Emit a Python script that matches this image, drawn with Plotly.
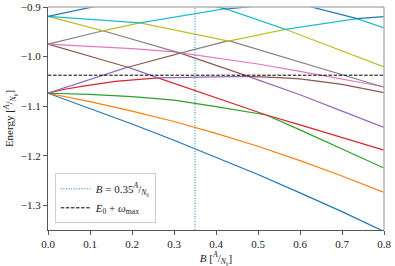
import plotly.graph_objects as go

# ---- data ----
B_blue = [0, 0.1, 0.2, 0.3, 0.4, 0.5, 0.6, 0.7, 0.8]
E_blue = [-1.074, -1.105, -1.136, -1.169, -1.203, -1.238, -1.275, -1.313, -1.353]

B_orange = [0, 0.1, 0.2, 0.3, 0.4, 0.5, 0.6, 0.7, 0.8]
E_orange = [-1.074, -1.091, -1.110, -1.131, -1.155, -1.181, -1.210, -1.241, -1.274]

B_green = [0, 0.1, 0.2, 0.3, 0.4, 0.52, 0.6, 0.7, 0.8]
E_green = [-1.074, -1.0765, -1.081, -1.088, -1.101, -1.118, -1.148, -1.187, -1.225]

B_red = [0, 0.04, 0.08, 0.16, 0.262, 0.35, 0.44, 0.52, 0.6, 0.7, 0.8]
E_red = [-1.074, -1.066, -1.060, -1.050, -1.043, -1.069, -1.095, -1.118, -1.138, -1.163, -1.189]

B_purple = [0, 0.19, 0.262, 0.35, 0.477, 0.5, 0.6, 0.7, 0.8]
E_purple = [-1.074, -1.0215, -1.043, -1.0415, -1.040, -1.047, -1.077, -1.110, -1.143]

B_brown = [0, 0.19, 0.315, 0.477, 0.55, 0.6, 0.7, 0.8]
E_brown = [-0.975, -1.0215, -0.993, -1.040, -1.0425, -1.045, -1.056, -1.073]

B_pink = [0, 0.1, 0.2, 0.3, 0.4, 0.5, 0.6, 0.7, 0.8]
E_pink = [-0.975, -0.979, -0.984, -0.9905, -1.002, -1.015, -1.030, -1.045, -1.061]

B_gray = [0, 0.131, 0.315, 0.43, 0.8]
E_gray = [-0.975, -0.948, -0.993, -0.968, -1.062]

B_olive = [0, 0.131, 0.219, 0.43, 0.565, 0.8]
E_olive = [-0.919, -0.948, -0.932, -0.969, -0.945, -1.021]

B_cyan = [0, 0.219, 0.422, 0.565, 0.736, 0.8]
E_cyan = [-0.919, -0.932, -0.9035, -0.945, -0.9235, -0.942]

B_blue2 = [0, 0.15, None, 0.38, 0.425, 0.5, None, 0.6, 0.736, 0.8]
E_blue2 = [-0.919, -0.892, None, -0.896, -0.904, -0.898, None, -0.894, -0.9235, -0.9195]

B_orange2 = [0.785, 0.8]
E_orange2 = [-0.897, -0.9015]

B_marker = 0.35
E_max = -1.0376

x_ticks = [0.0, 0.1, 0.2, 0.3, 0.4, 0.5, 0.6, 0.7, 0.8]
y_ticks = [-1.3, -1.2, -1.1, -1.0, -0.9]
x_range = [0.0, 0.8]
y_range = [-1.35, -0.9]

series = [
    (B_blue, E_blue, "#1f77b4"),
    (B_orange, E_orange, "#ff7f0e"),
    (B_green, E_green, "#2ca02c"),
    (B_red, E_red, "#d62728"),
    (B_purple, E_purple, "#9467bd"),
    (B_brown, E_brown, "#8c564b"),
    (B_pink, E_pink, "#e377c2"),
    (B_gray, E_gray, "#7f7f7f"),
    (B_olive, E_olive, "#bcbd22"),
    (B_cyan, E_cyan, "#17becf"),
    (B_blue2, E_blue2, "#1f77b4"),
    (B_orange2, E_orange2, "#ff7f0e"),
]

FONT = "Liberation Serif"
fig = go.Figure()
for bx, ey, col in series:
    fig.add_trace(go.Scatter(x=bx, y=ey, mode="lines", showlegend=False,
                             line=dict(color=col, width=1.2), connectgaps=False,
                             hoverinfo="skip"))

fig.add_trace(go.Scatter(
    x=[B_marker, B_marker], y=y_range, mode="lines",
    line=dict(color="#1f77b4", width=1, dash="1px,1.6px"),
    name="<i>B</i> = 0.35<sup><i>A</i></sup>/<sub><i>N</i>₀</sub>"))
fig.add_trace(go.Scatter(
    x=x_range, y=[E_max, E_max], mode="lines",
    line=dict(color="black", width=1, dash="3.5px,1.6px"),
    name="<i>E</i><sub>0</sub> + <i>ω</i><sub>max</sub>"))

fig.update_layout(
    width=395, height=266, autosize=False,
    margin=dict(l=48, r=11, t=7, b=36, autoexpand=False),
    paper_bgcolor="white", plot_bgcolor="white",
    font=dict(family=FONT, size=11, color="#222"),
    legend=dict(x=0.02, y=0.03, xanchor="left", yanchor="bottom",
                bordercolor="#d0d0d0", borderwidth=1,
                bgcolor="rgba(255,255,255,0.85)",
                font=dict(family=FONT, size=11), tracegroupgap=0,
                itemwidth=30),
)
fig.update_xaxes(range=x_range, tickvals=x_ticks, tickformat=".1f",
                 showgrid=False, zeroline=False, showline=True,
                 linecolor="#555", linewidth=1, ticks="outside", ticklen=4,
                 tickcolor="#555", automargin=False,
                 tickfont=dict(family=FONT, size=11, color="#222"),
                 title=dict(text="<i>B</i> [<sup><i>A</i></sup>/<sub><i>N</i>₀</sub>]",
                            standoff=2, font=dict(family=FONT, size=11)))
fig.update_yaxes(range=y_range, tickvals=y_ticks, tickformat=".1f",
                 showgrid=False, zeroline=False, showline=True,
                 linecolor="#555", linewidth=1, ticks="outside", ticklen=4,
                 tickcolor="#555", automargin=False,
                 tickfont=dict(family=FONT, size=11, color="#222"),
                 title=dict(text="Energy [<sup><i>A</i></sup>/<sub><i>N</i>₀</sub>]",
                            standoff=4, font=dict(family=FONT, size=11)))
# top and right spines (lighter)
fig.add_shape(type="line", xref="paper", yref="paper", x0=0, x1=1, y0=1, y1=1,
              line=dict(color="#b5b5b5", width=1.5))
fig.add_shape(type="line", xref="paper", yref="paper", x0=1, x1=1, y0=0, y1=1,
              line=dict(color="#b5b5b5", width=1.5))

fig.write_html("out.html", config={"responsive": False, "displayModeBar": False},
               post_script="document.body.style.margin='0';document.body.style.overflow='hidden';")
